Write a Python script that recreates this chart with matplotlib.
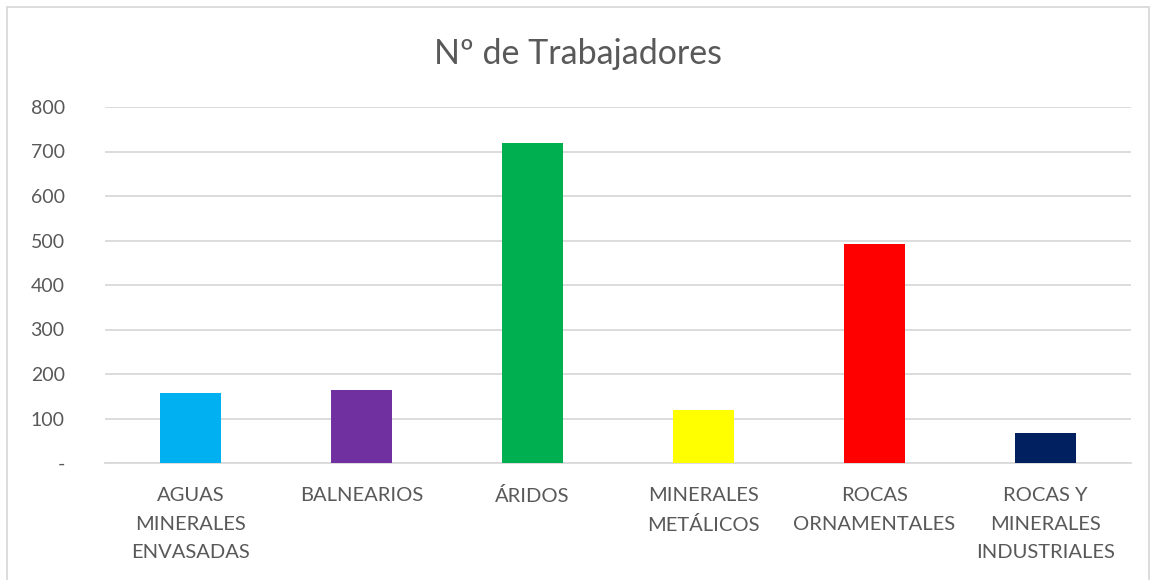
import matplotlib
matplotlib.use("Agg")
import matplotlib.pyplot as plt
from matplotlib.patches import Rectangle

categorias = ["AGUAS\nMINERALES\nENVASADAS", "BALNEARIOS", "ÁRIDOS",
              "MINERALES\nMETÁLICOS", "ROCAS\nORNAMENTALES",
              "ROCAS Y\nMINERALES\nINDUSTRIALES"]
trabajadores = [157, 164, 719, 119, 492, 67]
colores = ["#00B0F0", "#7030A0", "#00B050", "#FFFF00", "#FF0000", "#002060"]
ticks = [0, 100, 200, 300, 400, 500, 600, 700, 800]
tick_labels = ["-"] + [str(t) for t in ticks[1:]]

plt.rcParams['font.family'] = ['Lato', 'DejaVu Sans']
gris = "#595959"

fig = plt.figure(figsize=(11.56, 5.8), dpi=100)
ax = fig.add_axes([105 / 1156, 1 - 463 / 580, 1026 / 1156, 356 / 580])

x = range(len(categorias))
ax.bar(x, trabajadores, width=0.357, color=colores, zorder=3)

ax.set_xlim(-0.5, len(categorias) - 0.5)
ax.set_ylim(0, 800)
ax.set_yticks(ticks)
ax.set_yticklabels(tick_labels, fontsize=14, color=gris)
ax.set_xticks(list(x))
ax.set_xticklabels(categorias, fontsize=14.5, color=gris, linespacing=1.85)
ax.tick_params(axis='both', length=0)
ax.tick_params(axis='y', pad=29)
ax.tick_params(axis='x', pad=17)
ax.grid(axis='y', color="#D9D9D9", linewidth=1.3, zorder=0)
for s in ["top", "right", "left"]:
    ax.spines[s].set_visible(False)
ax.spines["bottom"].set_color("#D9D9D9")
ax.spines["bottom"].set_linewidth(1.3)

fig.text(0.5, 1 - 54 / 580, "Nº de Trabajadores", ha="center", va="center",
         fontsize=24.5, color=gris)

fig.patches.append(Rectangle((7 / 1156, -0.01), 1 - 14 / 1156, 1 - 7 / 580 + 0.01,
                             transform=fig.transFigure, fill=False,
                             edgecolor="#D9D9D9", linewidth=1.3))

fig.savefig("out.png", dpi=100)
